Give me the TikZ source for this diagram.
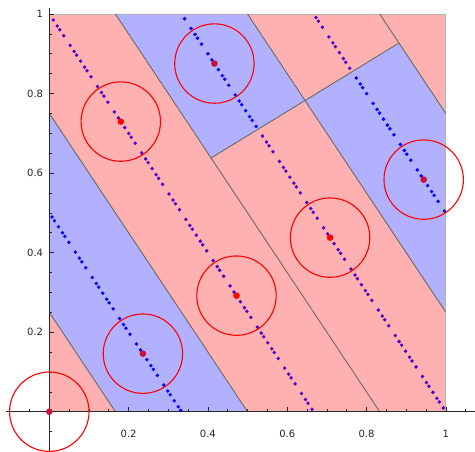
\documentclass[tikz,border=0pt]{standalone}
\usepackage{fontspec}
\setmainfont{DejaVu Sans}
\definecolor{regpink}{RGB}{255,177,177}
\definecolor{regblue}{RGB}{177,177,255}
\definecolor{edgedark}{RGB}{105,105,105}
\definecolor{edgelight}{RGB}{180,180,180}
\definecolor{dotblue}{RGB}{0,0,255}
\definecolor{dotpurple}{RGB}{75,0,200}
\definecolor{ptred}{RGB}{255,0,0}
\definecolor{ptcrimson}{RGB}{200,16,60}
\definecolor{axiscol}{RGB}{40,40,40}
\tikzset{
  boundary/.style={draw=edgedark, line width=0.9pt},
  frameedge/.style={draw=edgelight, line width=0.9pt},
  ring/.style={draw=ptred, line width=1.1pt},
  axisline/.style={draw=axiscol, line width=0.8pt},
  ticklab/.style={font=\fontsize{10}{12}\selectfont, text=black!85, inner sep=0pt},
}
\begin{document}
\begin{tikzpicture}[x=396.5pt,y=397.7pt]
\useasboundingbox (-49.3pt,-40.3pt) rectangle (425.7pt,411.7pt);
% key points of the partition
\coordinate (A) at (0.408,0.638);
\coordinate (C) at (0.882,0.927);
\coordinate (B) at (0.645,0.7825);
% regions
\fill[regpink] (0,0) rectangle (1,1);
\fill[regblue] (0,0.25) -- (0,0.75) -- (0.5,0) -- (1/6,0) -- cycle;
\fill[regblue] (1/6,1) -- (0.5,1) -- (B) -- (A) -- cycle;
\fill[regblue] (B) -- (C) -- (1,0.75) -- (1,0.25) -- cycle;
% outer frame edges
\draw[frameedge] (0,1) -- (1,1) -- (1,0);
% interior boundaries
\draw[boundary] (0,0.25) -- (1/6,0);
\draw[boundary] (0,0.75) -- (0.5,0);
\draw[boundary] (1/6,1) -- (5/6,0);
\draw[boundary] (0.5,1) -- (1,0.25);
\draw[boundary] (5/6,1) -- (1,0.75);
\draw[boundary] (A) -- (C);
% axes
\draw[axisline] (-43.3pt,0) -- (425.7pt,0);
\draw[axisline] (0,-40.3pt) -- (0,404pt);
\foreach \i in {-2,...,21}{
  \pgfmathsetmacro\tx{\i*0.05}
  \pgfmathtruncatemacro\mj{mod(\i+20,4)==0 ? 1 : 0}
  \ifnum\mj=1
    \draw[axisline, line width=0.6pt] (\tx,0) -- ++(0,4.5pt);
  \else
    \draw[axisline, line width=0.6pt] (\tx,0) -- ++(0,2.5pt);
  \fi
}
\foreach \i in {-2,...,20}{
  \pgfmathsetmacro\ty{\i*0.05}
  \pgfmathtruncatemacro\mj{mod(\i+20,4)==0 ? 1 : 0}
  \ifnum\mj=1
    \draw[axisline, line width=0.6pt] (0,\ty) -- ++(4.5pt,0);
  \else
    \draw[axisline, line width=0.6pt] (0,\ty) -- ++(2.5pt,0);
  \fi
}
% tick labels
\node[ticklab] (xl2) at (0.2,-22.6pt) {0.2};
\node[ticklab] (xl4) at (0.4,-22.6pt) {0.4};
\node[ticklab] (xl6) at (0.6,-22.6pt) {0.6};
\node[ticklab] (xl8) at (0.8,-22.6pt) {0.8};
\node[ticklab] (xl10) at (1,-22.6pt) {1};
\node[ticklab, anchor=east] (yl2) at (-6pt,0.2) {0.2};
\node[ticklab, anchor=east] (yl4) at (-6pt,0.4) {0.4};
\node[ticklab, anchor=east] (yl6) at (-6pt,0.6) {0.6};
\node[ticklab, anchor=east] (yl8) at (-6pt,0.8) {0.8};
\node[ticklab, anchor=east] (yl10) at (-6pt,1) {1};
% dots along the closed geodesic
\foreach \k in {0,...,199}{
  \edef\tK{\fpeval{\k*0.6180339887498949 - trunc(\k*0.6180339887498949)}}
  \edef\xK{\fpeval{2*\tK - trunc(2*\tK)}}
  \edef\yK{\fpeval{ceil(3*\tK) - 3*\tK}}
  \edef\cK{\fpeval{round(3*\xK+2*\yK)}}
  \edef\aK{\fpeval{(\yK - 0.638 - 0.6097*(\xK-0.408)) > 0}}
  \def\dc{dotpurple}
  \ifnum\cK=1 \def\dc{dotblue}\fi
  \ifnum\cK=3 \ifnum\aK=1 \def\dc{dotblue}\fi\fi
  \ifnum\cK=4 \ifnum\aK=0 \def\dc{dotblue}\fi\fi
  \fill[\dc] (\xK,\yK) circle[radius=1.9pt];
}
% red points
\fill[ptcrimson] (0,0) circle[radius=3.3pt];
\fill[ptcrimson] (0.236068,0.145898) circle[radius=3.3pt];
\fill[ptred] (0.472136,0.291796) circle[radius=3.3pt];
\fill[ptred] (0.708204,0.437694) circle[radius=3.3pt];
\fill[ptcrimson] (0.944272,0.583592) circle[radius=3.3pt];
\fill[ptred] (0.180340,0.729490) circle[radius=3.3pt];
\fill[ptcrimson] (0.416408,0.875388) circle[radius=3.3pt];
% circles
\foreach \px/\py in {0/0,0.236068/0.145898,0.472136/0.291796,0.708204/0.437694,0.944272/0.583592,0.180340/0.729490,0.416408/0.875388}{
  \draw[ring] (\px,\py) circle[radius=39.7pt];
}
\end{tikzpicture}
\end{document}
